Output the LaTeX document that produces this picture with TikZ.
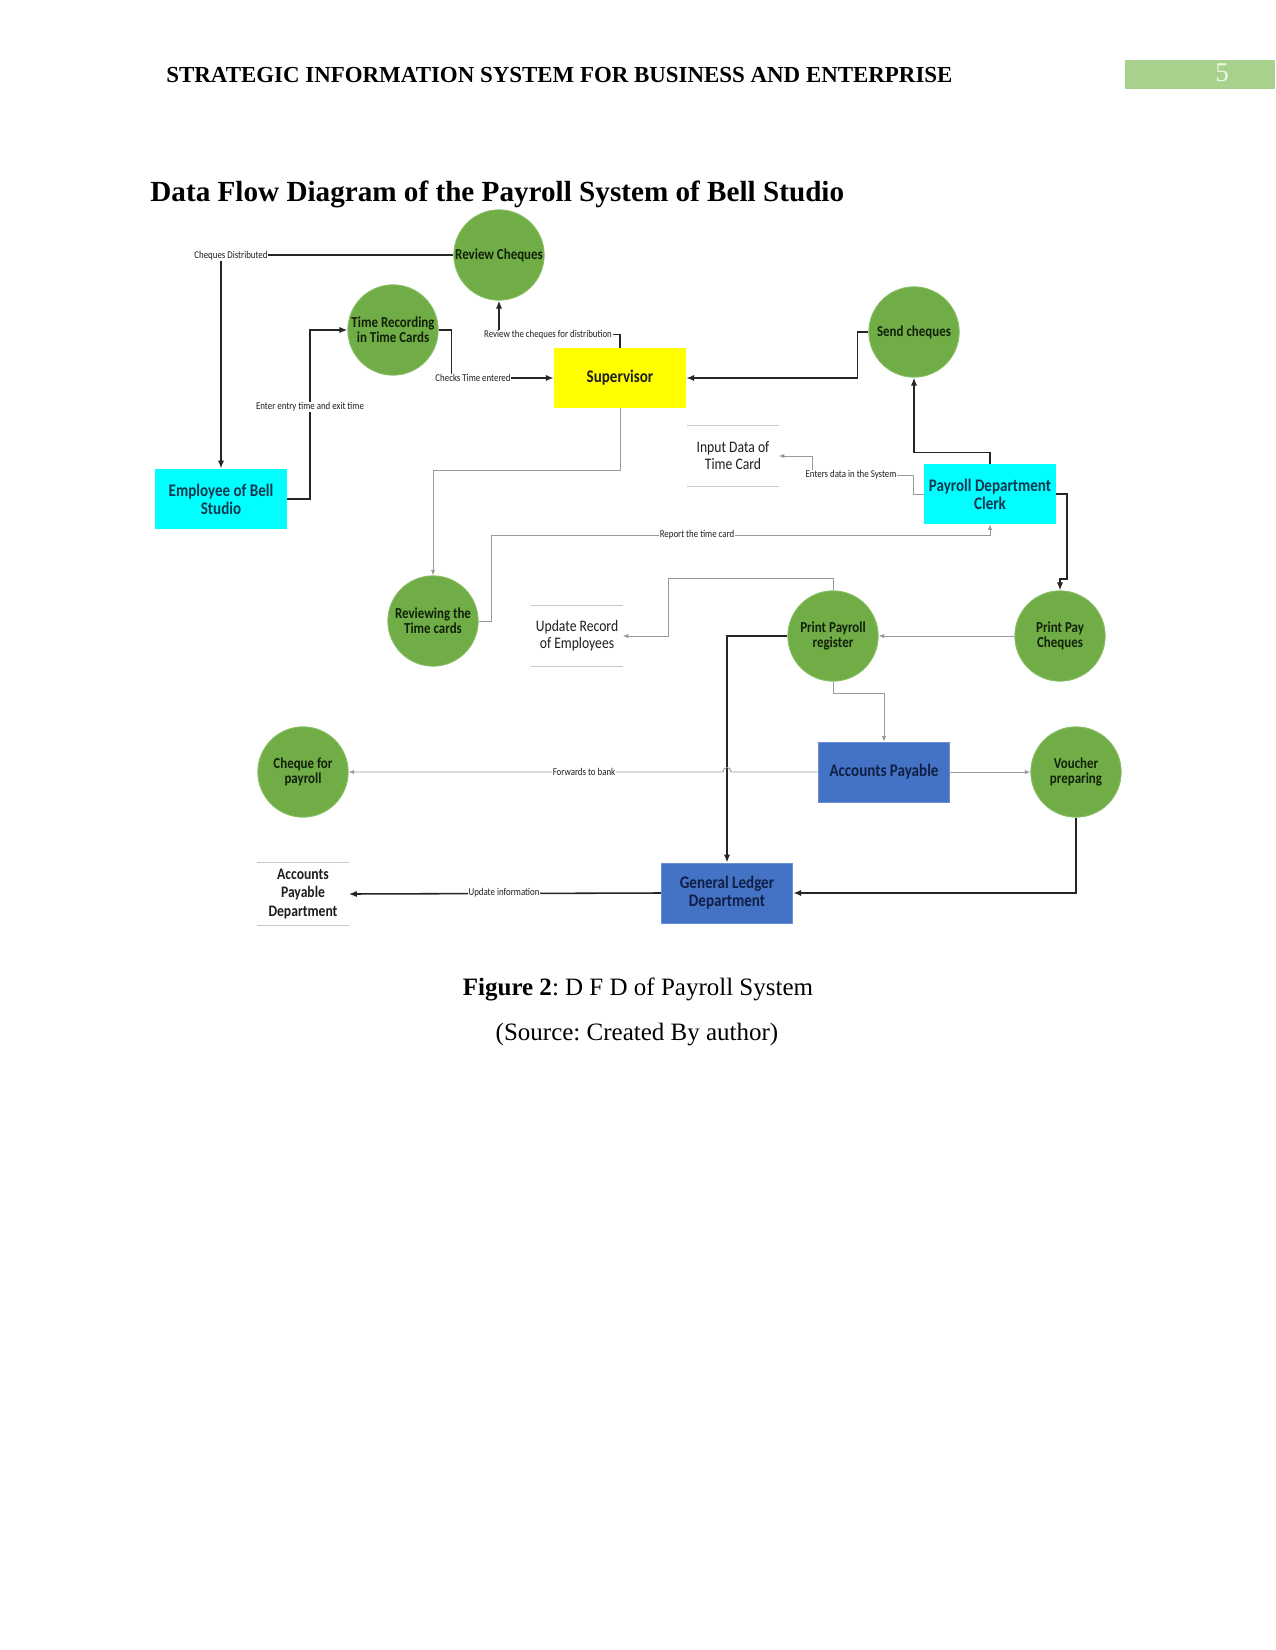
\documentclass[tikz,border=0pt]{standalone}
\usepackage{fontspec}
\setmainfont{Liberation Serif}
\newfontfamily\dfd[FakeStretch=0.85]{Carlito}
\usetikzlibrary{arrows.meta,calc}
\frenchspacing
\definecolor{procgreen}{HTML}{70AD47}
\definecolor{procedge}{HTML}{8CC06A}
\definecolor{proctext}{HTML}{12200A}
\definecolor{entyellow}{HTML}{FFFF00}
\definecolor{entcyan}{HTML}{00FFFF}
\definecolor{entblue}{HTML}{4472C4}
\definecolor{blueedge}{HTML}{6A8FD6}
\definecolor{bluetext}{HTML}{0F1F45}
\definecolor{cyantext}{HTML}{123650}
\definecolor{darktext}{HTML}{1E1E1E}
\definecolor{hdrgreen}{HTML}{A9D18E}
\definecolor{hdrnum}{HTML}{EEF6E8}
\definecolor{storegray}{HTML}{C8C8C8}
\definecolor{thingray}{HTML}{9A9A9A}
\begin{document}
\begin{tikzpicture}[x=0.48pt,y=-0.48pt,
  proc/.style={circle,fill=procgreen,draw=procedge,line width=0.4pt,minimum size=43.4pt,inner sep=0pt,align=center,text=proctext,font=\dfd\bfseries\fontsize{7.3}{7.4}\selectfont},
  ent/.style={rectangle,minimum width=63.2pt,minimum height=28.8pt,inner sep=0pt,align=center,font=\dfd\bfseries\fontsize{8.5}{8.7}\selectfont},
  store/.style={rectangle,minimum width=43.6pt,minimum height=28.8pt,inner sep=0pt,align=center,text=darktext,font=\dfd\fontsize{7.7}{8.2}\selectfont},
  storeline/.style={draw=storegray,line width=0.5pt},
  mainflow/.style={draw=black!85,line width=0.75pt,-{Latex[length=3.8pt,width=3pt]}},
  thinflow/.style={draw=thingray,line width=0.45pt,-{Latex[length=2.6pt,width=2.1pt]}},
  lbl/.style={fill=white,inner sep=0.4pt,text=darktext,font=\dfd\fontsize{5}{5}\selectfont}
]
\useasboundingbox (0,0) rectangle (1275,1650);
\fill[white] (0,0) rectangle (1275,1650);

% page header
\node[fill=hdrgreen,minimum width=72pt,minimum height=13.9pt,inner sep=0pt,anchor=north west] (pagebox) at (1125,60) {};
\node[anchor=base,inner sep=0pt,text=hdrnum,font=\fontsize{13}{15}\selectfont] (pagenum) at (1222,82) {5};
\node[anchor=base west,inner sep=0pt,font=\bfseries\fontsize{11}{13}\selectfont] (hdr) at (166,83) {STRATEGIC INFORMATION SYSTEM FOR BUSINESS AND ENTERPRISE};
\node[anchor=base west,inner sep=0pt,font=\bfseries\fontsize{14}{16}\selectfont] (title) at (150,202) {Data Flow Diagram of the Payroll System of Bell Studio};

% processes
\node[proc] (rc)  at (499,255) {Review Cheques};
\node[proc] (tr)  at (393,330) {Time Recording\\in Time Cards};
\node[proc] (sc)  at (914,332) {Send cheques};
\node[proc] (rtc) at (433,621) {Reviewing the\\Time cards};
\node[proc] (ppr) at (833,636) {Print Payroll\\register};
\node[proc] (ppc) at (1060,636) {Print Pay\\Cheques};
\node[proc] (cfp) at (303,772) {Cheque for\\payroll};
\node[proc] (vp)  at (1076,772) {Voucher\\preparing};

% entities
\node[ent,fill=entyellow,text=darktext] (sup) at (620,378) {Supervisor};
\node[ent,fill=entcyan,text=cyantext] (emp) at (221,499) {Employee of Bell\\Studio};
\node[ent,fill=entcyan,text=cyantext] (clerk) at (990,494) {Payroll Department\\Clerk};
\node[ent,fill=entblue,draw=blueedge,line width=0.4pt,text=bluetext] (ap) at (884,772) {Accounts Payable};
\node[ent,fill=entblue,draw=blueedge,line width=0.4pt,text=bluetext] (gl) at (727,893) {General Ledger\\Department};

% data stores
\node[store] (idt) at (733,456) {Input Data of\\Time Card};
\node[store] (ure) at (577,636) {Update Record\\of Employees};
\node[store,minimum height=29.8pt,font=\dfd\bfseries\fontsize{7.7}{8.9}\selectfont] (apd) at (303,894) {Accounts\\Payable\\Department};
\foreach \s in {idt,ure,apd}{
  \draw[storeline] (\s.north west) -- (\s.north east);
  \draw[storeline] (\s.south west) -- (\s.south east);
}

% flows
\draw[mainflow] (rc.west) -| (emp.north);
\draw[mainflow] (emp.east) -- ++(23,0) |- (tr.west);
\draw[mainflow] (tr.east) -- ++(13,0) |- (sup.west);
\draw[mainflow] (sup.north) -- ++(0,-13) -| (rc.south);
\draw[mainflow] (sc.west) -- ++(-11,0) |- (sup.east);
\draw[mainflow] (clerk.north) -- ++(0,-11) -| (sc.south);
\draw[thinflow] (clerk.west) -- ++(-10,0) -- ++(0,-19) -- ++(-101,0) |- (idt.east);
\draw[mainflow] (clerk.east) -- ++(11,0) -- ++(0,85) -| (ppc.north);
\draw[thinflow] (sup.south) -- ++(0,62) -| (rtc.north);
\draw[thinflow] (rtc.east) -- ++(13,0) -- ++(0,-86) -| (clerk.south);
\draw[thinflow] (ppr.north) -- ++(0,-12) -- ++(-165,0) |- (ure.east);
\draw[thinflow] (ppc.west) -- (ppr.east);
\draw[mainflow] (ppr.west) -| (gl.north);
\draw[thinflow] (ppr.south) -- ++(0,12) -| (ap.north);
\draw[thinflow] (ap.west) -- (731,772) .. controls (731,766) and (723,766) .. (723,772) -- (cfp.east);
\draw[thinflow] (ap.east) -- (vp.west);
\draw[mainflow] (vp.south) |- (gl.east);
\draw[mainflow] (gl.west) -- (apd.east);

% flow labels
\node[lbl] (l1) at (231,256) {Cheques Distributed};
\node[lbl] (l2) at (310,407) {Enter entry time and exit time};
\node[lbl] (l3) at (473,378) {Checks Time entered};
\node[lbl] (l4) at (548,335) {Review the cheques for distribution};
\node[lbl] (l5) at (851,475) {Enters data in the System};
\node[lbl] (l6) at (697,535) {Report the time card};
\node[lbl] (l7) at (584,772) {Forwards to bank};
\node[lbl] (l8) at (504,893) {Update information};

% caption
\node[anchor=base,inner sep=0pt,font=\fontsize{12}{14}\selectfont] (cap) at (638,995) {\textbf{Figure 2}: D F D of Payroll System};
\node[anchor=base,inner sep=0pt,font=\fontsize{12}{14}\selectfont] (src) at (637,1040) {(Source: Created By author)};
\end{tikzpicture}
\end{document}
